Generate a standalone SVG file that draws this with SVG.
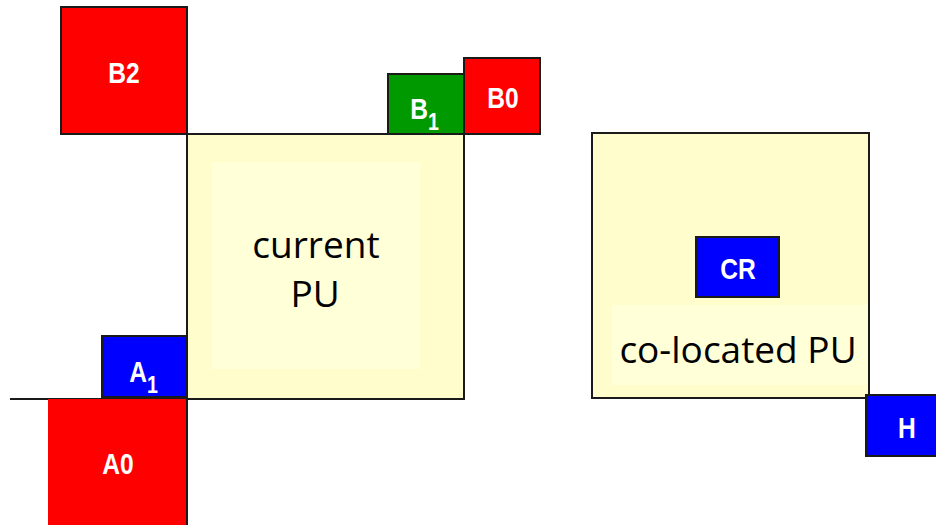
<svg xmlns="http://www.w3.org/2000/svg" width="936" height="525" viewBox="0 0 936 525">
<style>
.blk{stroke:#1a1a1a;stroke-width:2}
.red{fill:#ff0000}
.grn{fill:#009900}
.blu{fill:#0000ff}
.pu{fill:#fffdcc;stroke:#1a1a1a;stroke-width:2}
.inner{fill:#ffffd8}
.lbl{font-family:"Liberation Sans",Arial,sans-serif;font-weight:bold;font-size:30px;fill:#fff;text-anchor:middle}
.end{text-anchor:end}
.sub{font-size:24px}
.big{font-family:"Open Sans","Noto Sans",sans-serif;font-size:37px;fill:#000;text-anchor:middle}
</style>
<g id="current-pu">
<rect class="pu" x="187" y="134" width="277" height="265"/>
<rect class="inner" x="212" y="162" width="208" height="207"/>
<text class="big" x="316" y="258">current</text>
<text class="big" x="315" y="307">PU</text>
</g>
<g id="colocated-pu">
<rect class="pu" x="592" y="133" width="277" height="265"/>
<rect class="inner" x="612" y="305" width="255" height="80"/>
<text class="big" x="738" y="363">co-located PU</text>
</g>
<g id="connectors">
<line x1="10" y1="399" x2="464" y2="399" stroke="#1a1a1a" stroke-width="2"/>
</g>
<g id="B2">
<rect class="red blk" x="61" y="7" width="126" height="127"/>
<text class="lbl" transform="translate(124,83) scale(0.82,1)">B2</text>
</g>
<g id="B1">
<rect class="grn blk" x="388" y="74" width="76" height="60"/>
<text class="lbl end" transform="translate(439,119) scale(0.82,1)">B<tspan class="sub" dy="11">1</tspan></text>
</g>
<g id="B0">
<rect class="red blk" x="464" y="58" width="76" height="76"/>
<text class="lbl" transform="translate(503,108) scale(0.82,1)">B0</text>
</g>
<g id="A1">
<rect class="blu blk" x="102" y="336" width="85" height="61"/>
<text class="lbl end" transform="translate(158,382) scale(0.82,1)">A<tspan class="sub" dy="11">1</tspan></text>
</g>
<g id="A0">
<rect class="red" x="48" y="399" width="139" height="127"/>
<line x1="187" y1="399" x2="187" y2="525" stroke="#1a1a1a" stroke-width="2"/>
<text class="lbl" transform="translate(118,474) scale(0.82,1)">A0</text>
</g>
<g id="CR">
<rect class="blu blk" x="696" y="237" width="83" height="60"/>
<text class="lbl" transform="translate(738,279) scale(0.82,1)">CR</text>
</g>
<g id="H">
<rect class="blu blk" x="866" y="395" width="72" height="61"/>
<text class="lbl" transform="translate(907,438) scale(0.82,1)">H</text>
</g>
</svg>
